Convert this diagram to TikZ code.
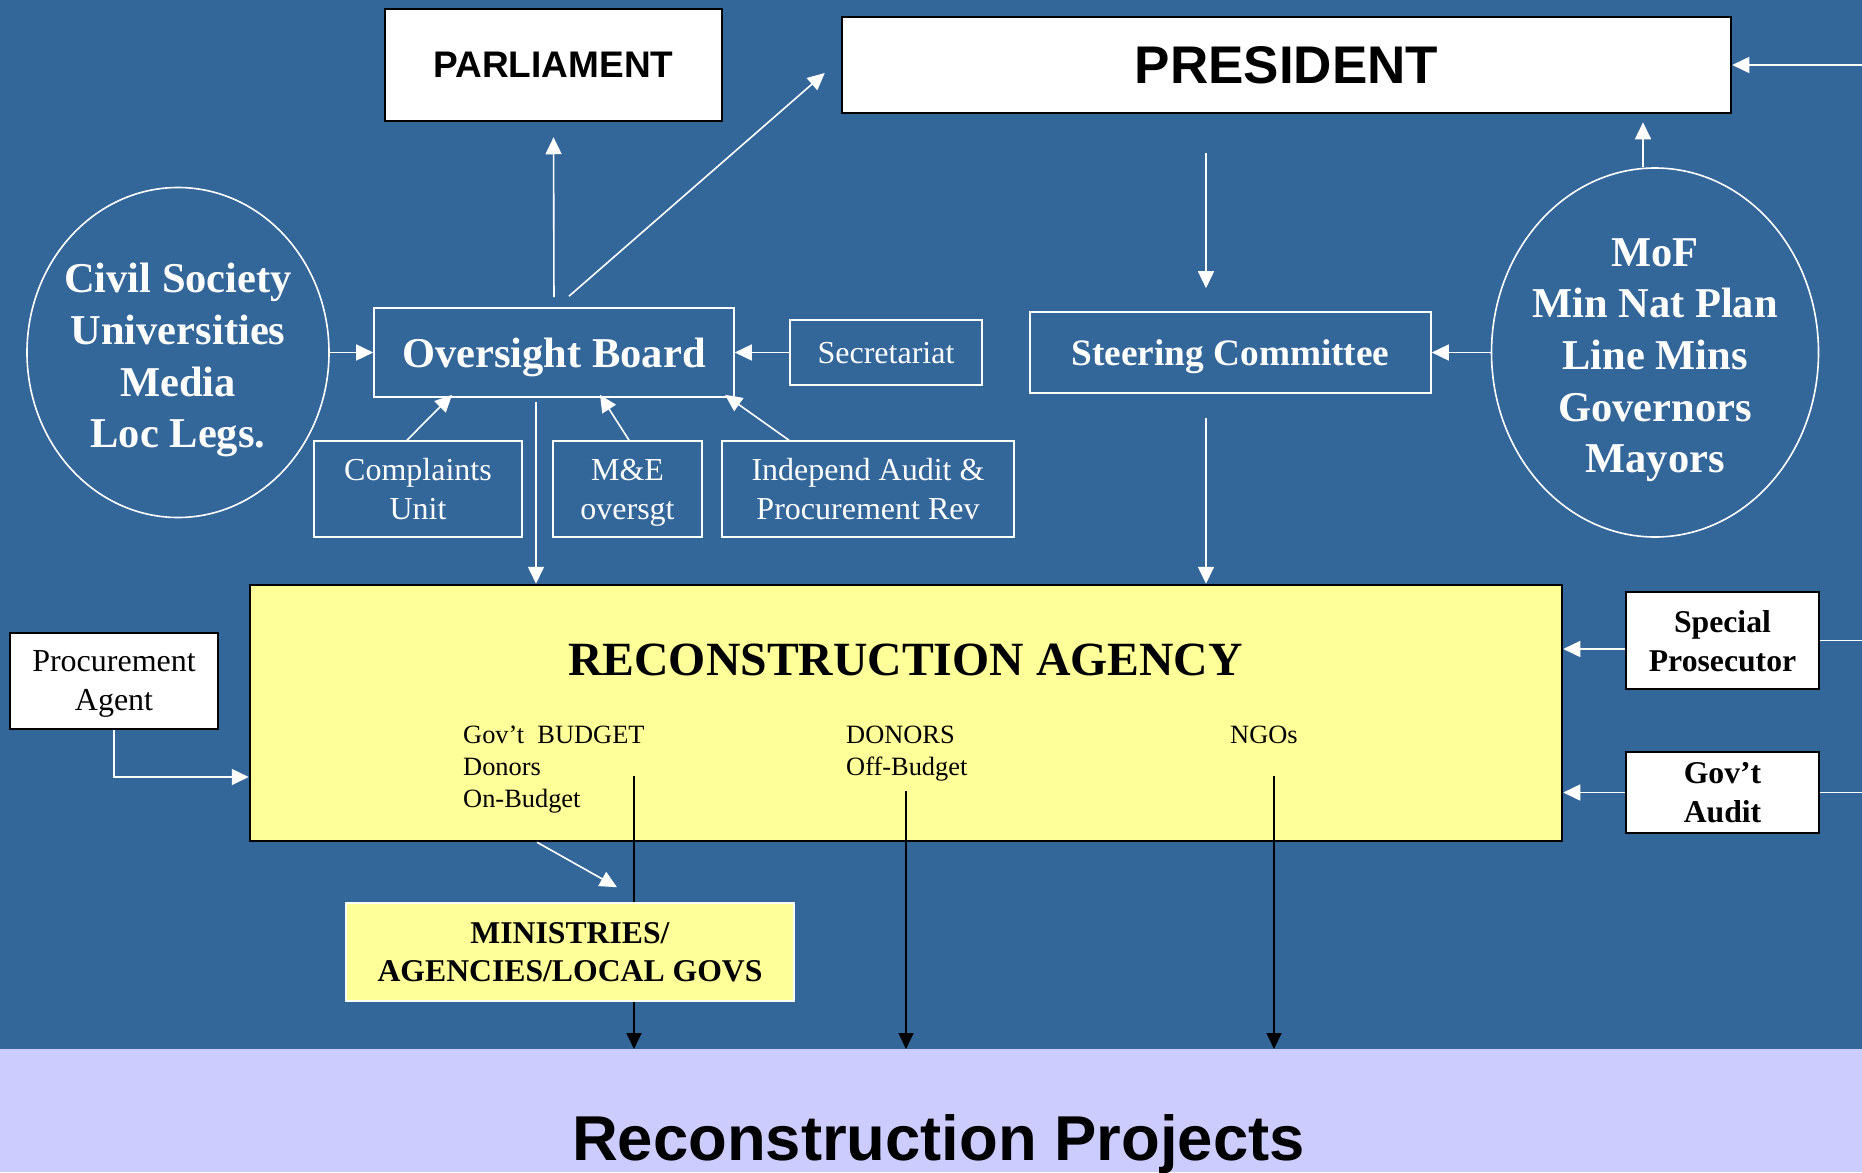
\documentclass[tikz,border=0pt]{standalone}
\usepackage{fontspec}
\setmainfont{Liberation Serif}
\newfontfamily\arialfont{Liberation Sans}
\usetikzlibrary{shapes.geometric,arrows.meta,calc}
\definecolor{bgblue}{RGB}{51,102,153}
\definecolor{lavband}{RGB}{204,204,255}
\definecolor{paleyellow}{RGB}{255,255,153}
\newcommand{\fsz}[2]{\fontsize{#1}{#2}\selectfont}
\tikzset{
  whitebox/.style={draw=black,fill=white,line width=2.5pt,inner sep=2pt,text depth=0pt,align=center},
  bluebox/.style={draw=white,line width=1.6pt,text=white,inner sep=2pt,text depth=0pt,align=center},
  ellipsetext/.style={text=white,align=center,inner sep=0pt,text depth=0pt,yshift=-3pt,font=\bfseries\fsz{42.5}{51.6}},
  flowtext/.style={anchor=north west,inner sep=0pt,align=left,font=\fsz{26.4}{32}},
  wline/.style={draw=white,line width=1.6pt},
  warrow/.style={wline,-{Triangle[length=17pt,width=16pt]}},
  karrow/.style={draw=black,line width=1.6pt,-{Triangle[length=16pt,width=15pt]}},
}
\begin{document}
\begin{tikzpicture}[x=1pt,y=1pt,yscale=-1,xscale=1]
\useasboundingbox (0,0) rectangle (1862,1172);
%Shape: background and projects band
\fill[bgblue] (0,0) rectangle (1862,1049);
\node[fill=lavband,inner sep=0pt,outer sep=0pt,minimum width=1862pt,minimum height=123pt] (band) at (931,1110.5) {};
% Text Node
\node[anchor=base,inner sep=0pt,font=\arialfont\bfseries\fsz{63.4}{70}] (projtxt) at (938.5,1160) {Reconstruction Projects};

%Shape: top row
\node[whitebox,minimum width=337pt,minimum height=112pt,font=\arialfont\bfseries\fsz{37}{44}] (parl) at (553.5,65) {PARLIAMENT};
\node[whitebox,minimum width=889pt,minimum height=96pt,font=\arialfont\bfseries\fsz{53}{60}] (pres) at (1286.5,65) {PRESIDENT};

%Shape: Ellipses
\node[ellipse,draw=white,line width=1.6pt,minimum width=302pt,minimum height=330pt,
  label={[ellipsetext]center:{Civil Society\\Universities\\Media\\Loc Legs.}}] (civ) at (178,352.5) {};
\node[ellipse,draw=white,line width=1.6pt,minimum width=327pt,minimum height=369pt,
  label={[ellipsetext]center:{MoF\\Min Nat Plan\\Line Mins\\Governors\\Mayors}}] (mof) at (1655,352.5) {};

%Shape: oversight row
\node[bluebox,minimum width=360pt,minimum height=89pt,font=\bfseries\fsz{42.5}{50}] (ob) at (554,352.5) {Oversight Board};
\node[bluebox,minimum width=192pt,minimum height=65pt,font=\fsz{32}{39}] (sec) at (886,352.5) {Secretariat};
\node[bluebox,minimum width=401pt,minimum height=81pt,font=\bfseries\fsz{37.3}{44}] (steer) at (1230.5,352.5) {Steering Committee};
\node[bluebox,minimum width=208pt,minimum height=96pt,font=\fsz{32}{39}] (compl) at (418,489) {Complaints\\Unit};
\node[bluebox,minimum width=149pt,minimum height=96pt,font=\fsz{32}{39}] (mne) at (627.5,489) {M\&E\\oversgt};
\node[bluebox,minimum width=292pt,minimum height=96pt,font=\fsz{32}{39}] (indep) at (868,489) {Independ Audit \&\\Procurement Rev};

%Shape: agency
\node[draw=black,fill=paleyellow,line width=2.5pt,minimum width=1312pt,minimum height=256pt] (ra) at (906,713) {};
\node[anchor=base,inner sep=0pt,font=\bfseries\fsz{47.7}{55}] (ratitle) at (905.5,675) {RECONSTRUCTION AGENCY};
\node[flowtext] (govbud) at (463,726) {Gov’t\ \ BUDGET\\Donors\\On-Budget};
\node[flowtext] (donors) at (846,726) {DONORS\\Off-Budget};
\node[flowtext] (ngos) at (1230,726) {NGOs};

%Shape: side boxes
\node[whitebox,minimum width=208pt,minimum height=96pt,font=\fsz{32}{39}] (pa) at (114,681) {Procurement\\Agent};
\node[whitebox,minimum width=193pt,minimum height=97pt,font=\bfseries\fsz{31.7}{39}] (sp) at (1722.5,640.5) {Special\\Prosecutor};
\node[whitebox,minimum width=193pt,minimum height=81pt,font=\bfseries\fsz{31.7}{39}] (ga) at (1722.5,792.5) {Gov’t\\Audit};

% money flows (under the ministries box)
\coordinate (gbout) at (634,776);
\coordinate (dnout) at (906,791);
\coordinate (ngout) at (1274,776);
\draw[karrow] (gbout) -- (gbout |- band.north);
\draw[karrow] (dnout) -- (dnout |- band.north);
\draw[karrow] (ngout) -- (ngout |- band.north);

\node[draw=white,fill=paleyellow,line width=1.5pt,minimum width=448pt,minimum height=98pt,align=center,text depth=0pt,font=\bfseries\fsz{31.7}{38}] (min) at (570,952) {MINISTRIES/\\AGENCIES/LOCAL GOVS};

% white connectors
\coordinate (presin) at (1862,65);
\draw[warrow] (civ.east) -- (ob.west);
\draw[warrow] (sec.west) -- (ob.east);
\draw[warrow] (mof.west) -- (steer.east);
\draw[warrow,shorten <=10pt,shorten >=15pt] (ob.north) -- (parl.south);
\draw[warrow] ($(ob.north)+(15,-11)$) -- ($(pres.west)+(-16,8)$);
\draw[warrow] ($(pres.south)+(-80.5,39)$) -- ($(steer.north)+(-24.5,-23)$);
\draw[warrow] ($(mof.north)+(-12,0)$) -- ($(pres.south)+(356.5,8)$);
\draw[warrow] (presin) -- (pres.east);
\draw[warrow] ($(compl.north)+(-11,0)$) -- ($(ob.south)+(-102,-3)$);
\draw[warrow] ($(mne.north)+(1.5,0)$) -- ($(ob.south)+(46,-3)$);
\draw[warrow] ($(indep.north)+(-79,0)$) -- ($(ob.south)+(171,-3)$);
\draw[warrow] ($(ob.south)+(-18,4)$) -- ($(ra.north)+(-370,0)$);
\draw[warrow] ($(steer.south)+(-24.5,24)$) -- ($(ra.north)+(300,0)$);
\draw[warrow] (pa.south) |- ($(ra.west)+(0,64)$);
\draw[warrow] ($(sp.west)+(0,8.5)$) -- ($(ra.east)+(0,-64)$);
\draw[warrow] (ga.west) -- (ga.west -| ra.east);
\draw[wline] (sp.east) -- ++(45,0);
\draw[wline] (ga.east) -- ++(45,0);
\draw[warrow] ($(ra.south)+(-369,0)$) -- ($(min.north)+(47,-15)$);
\end{tikzpicture}
\end{document}
